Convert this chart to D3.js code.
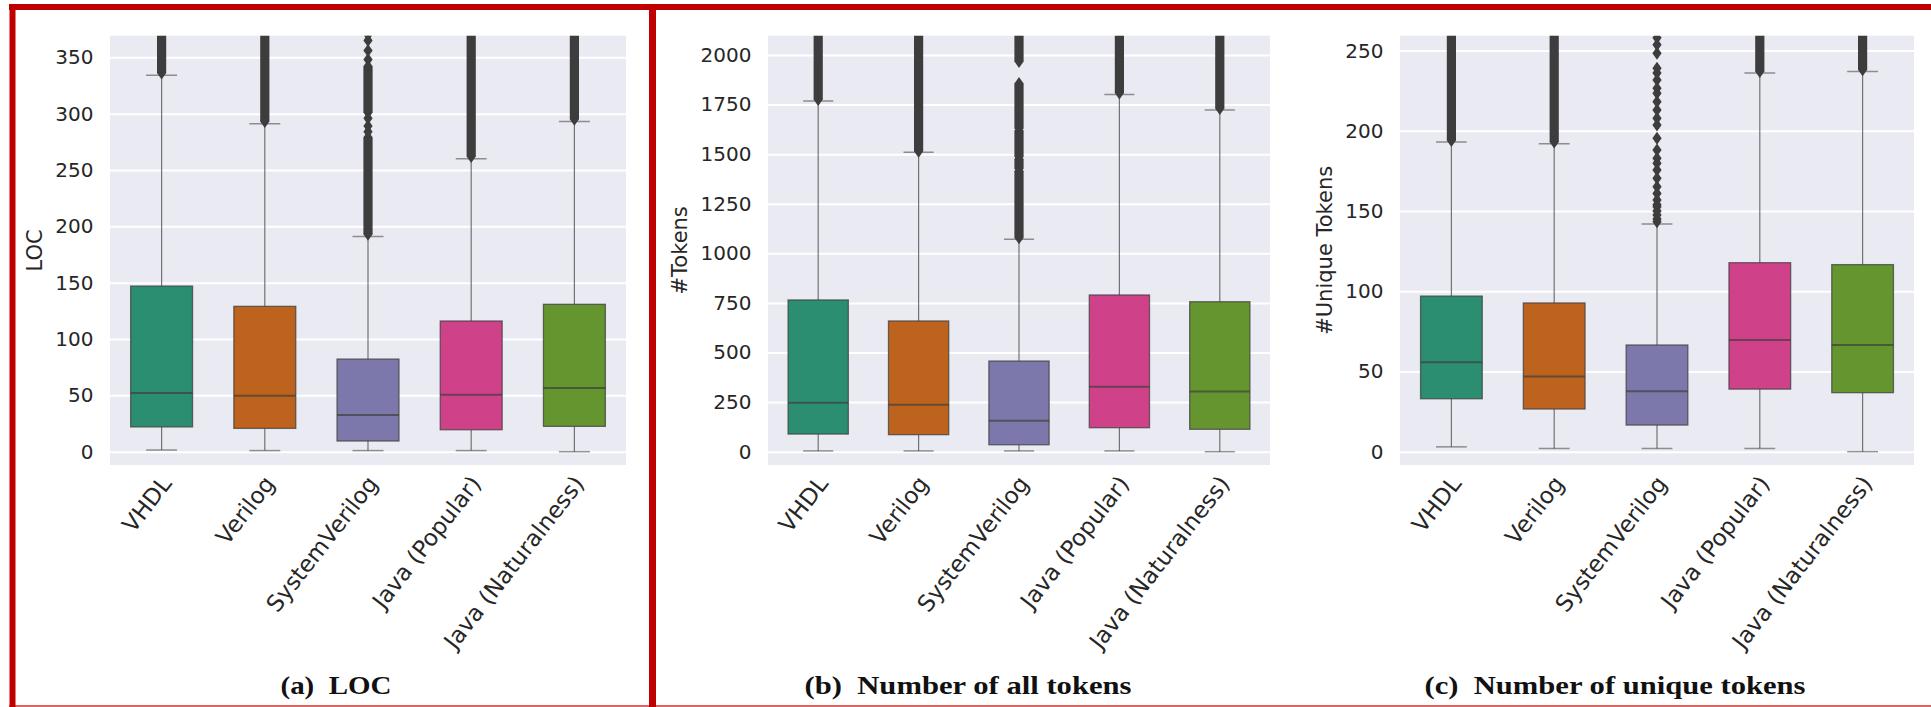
<!DOCTYPE html>
<html>
<head>
<meta charset="utf-8">
<script src="https://cdn.jsdelivr.net/npm/d3@7"></script>
<style>
  html, body { margin: 0; padding: 0; background: #ffffff; }
  svg { display: block; }
</style>
</head>
<body>
<svg id="chart" width="1931" height="707"></svg>
<script>
// ---------------- DATA ----------------
const categories = ["VHDL", "Verilog", "SystemVerilog", "Java (Popular)", "Java (Naturalness)"];

// [whisker low, Q1, median, Q3, whisker high] per category
const locBoxes = [
  [1.5, 22, 52, 147, 334],
  [1, 20.7, 49.7, 129, 291],
  [1, 9.5, 32.5, 82.2, 191],
  [1, 19.5, 50.6, 116, 260],
  [0, 22.5, 56.5, 130.8, 293]
];
const tokenBoxes = [
  [4, 89, 247, 765, 1768],
  [4, 86, 237, 659, 1509],
  [4, 35, 156, 457, 1071],
  [4, 121, 328, 790, 1800],
  [0, 113, 304, 756, 1723]
];
const uniqueBoxes = [
  [3, 33, 55.7, 97, 193],
  [2, 26.6, 46.8, 92.7, 192],
  [2, 16.6, 37.6, 66.5, 142],
  [2, 39, 69.6, 117.8, 236],
  [0, 36.8, 66.5, 116.6, 237]
];

// dense runs of overlapping outliers [from, to] per category
const locOutlierRuns = [
  [[336, 400]],
  [[293, 400]],
  [[193, 279], [301, 342]],
  [[262, 400]],
  [[295, 400]]
];
const tokenOutlierRuns = [
  [[1775, 2200]],
  [[1515, 2200]],
  [[1079, 1415], [1428, 1475], [1488, 1618], [1630, 1856], [1967, 2200]],
  [[1808, 2200]],
  [[1730, 2200]]
];
const uniqueOutlierRuns = [
  [[194, 280]],
  [[193, 280]],
  [],
  [[237, 280]],
  [[238, 280]]
];

// individual (sparse) outliers per category
const locOutliers = [[], [], [284, 289, 296, 348, 356, 365, 370], [], []];
const tokenOutliers = [[], [], [], [], []];
const uniqueOutliers = [[], [],
  [258, 253.6, 248.4, 239, 236, 231.7, 226.5, 223.4, 218.2, 213, 207.8, 203.6,
   195.3, 188, 182.9, 179.8, 175.6, 170.4, 165.2, 161, 156.9, 154, 152.7, 150,
   147.5, 145, 143.3],
  [], []];

const locTicks = [0, 50, 100, 150, 200, 250, 300, 350];
const tokenTicks = [0, 250, 500, 750, 1000, 1250, 1500, 1750, 2000];
const uniqueTicks = [0, 50, 100, 150, 200, 250];

const locDomain = [-11.8, 369.2];
const tokenDomain = [-67, 2097];
const uniqueDomain = [-8.3, 259.3];

const yLabels = ["LOC", "#Tokens", "#Unique Tokens"];
const captions = ["(a)\u2002LOC", "(b)\u2002Number of all tokens", "(c)\u2002Number of unique tokens"];

// ---------------- STYLE / LAYOUT ----------------
const basePalette = ["#1b9e77", "#d95f02", "#7570b3", "#e7298a", "#66a61e"];
const palette = basePalette.map(c => { const h = d3.hsl(c); h.s *= 0.75; return h.formatHex(); });

const plotTop = 35.7, plotBottom = 465;
const panels = [
  { x0: 110, x1: 626, domain: locDomain, ticks: locTicks, boxes: locBoxes, runs: locOutlierRuns, singles: locOutliers,
    ylabel: yLabels[0], ylabelX: 35, caption: captions[0], capX: 336, capW: 111 },
  { x0: 768, x1: 1270, domain: tokenDomain, ticks: tokenTicks, boxes: tokenBoxes, runs: tokenOutlierRuns, singles: tokenOutliers,
    ylabel: yLabels[1], ylabelX: 680, capX: 968, caption: captions[1], capW: 327 },
  { x0: 1400, x1: 1914, domain: uniqueDomain, ticks: uniqueTicks, boxes: uniqueBoxes, runs: uniqueOutlierRuns, singles: uniqueOutliers,
    ylabel: yLabels[2], ylabelX: 1325, capX: 1615, caption: captions[2], capW: 381 }
];

const svg = d3.select("#chart");
const defs = svg.append("defs");
const textColor = "#262626";
const lineColor = "#3f3f3f";
const flierColor = "#3d3d3d";
const dHalfW = 4.6, dHalfH = 6.5;
const diamond = `M0,${-dHalfH}L${dHalfW},0L0,${dHalfH}L${-dHalfW},0Z`;
const labelAngle = 52, labelFont = 23;

panels.forEach((p, pi) => {
  const x = d3.scaleBand().domain(categories).range([p.x0, p.x1]).paddingInner(0.4).paddingOuter(0.2);
  const y = d3.scaleLinear().domain(p.domain).range([plotBottom, plotTop]);
  const bw = x.bandwidth();
  const cx = c => x(c) + bw / 2;

  const clipId = "clip" + pi;
  defs.append("clipPath").attr("id", clipId)
    .append("rect").attr("x", p.x0).attr("y", plotTop).attr("width", p.x1 - p.x0).attr("height", plotBottom - plotTop);

  const g = svg.append("g");
  g.append("rect").attr("x", p.x0).attr("y", plotTop).attr("width", p.x1 - p.x0).attr("height", plotBottom - plotTop)
    .attr("fill", "#eaeaf2");

  const axis = d3.axisLeft(y).tickValues(p.ticks).tickSize(-(p.x1 - p.x0)).tickPadding(16.5).tickFormat(d3.format("d"));
  const ax = g.append("g").attr("transform", `translate(${p.x0},0)`).call(axis);
  ax.select(".domain").remove();
  ax.selectAll(".tick line").attr("stroke", "#ffffff").attr("stroke-width", 2);
  ax.selectAll(".tick text").attr("fill", textColor).attr("font-size", "20px")
    .attr("font-family", "DejaVu Sans, sans-serif").attr("x", -16.5);

  const plot = g.append("g").attr("clip-path", `url(#${clipId})`);

  categories.forEach((c, i) => {
    const [lo, q1, med, q3, hi] = p.boxes[i];
    const xc = cx(c);
    const capHalf = bw / 4;
    plot.append("line").attr("x1", xc).attr("x2", xc).attr("y1", y(q3)).attr("y2", y(hi))
      .attr("stroke", lineColor).attr("stroke-width", 1.2).attr("stroke-opacity", 0.7);
    plot.append("line").attr("x1", xc).attr("x2", xc).attr("y1", y(q1)).attr("y2", y(lo))
      .attr("stroke", lineColor).attr("stroke-width", 1.2).attr("stroke-opacity", 0.7);
    [lo, hi].forEach(v => {
      plot.append("line").attr("x1", xc - capHalf).attr("x2", xc + capHalf).attr("y1", y(v)).attr("y2", y(v))
        .attr("stroke", lineColor).attr("stroke-width", 1.5).attr("stroke-opacity", 0.55);
    });
    plot.append("rect").attr("x", x(c)).attr("width", bw).attr("y", y(q3)).attr("height", y(q1) - y(q3))
      .attr("fill", palette[i]).attr("stroke", lineColor).attr("stroke-width", 1.3).attr("stroke-opacity", 0.75);
    plot.append("line").attr("x1", x(c)).attr("x2", x(c) + bw).attr("y1", y(med)).attr("y2", y(med))
      .attr("stroke", lineColor).attr("stroke-width", 2).attr("stroke-opacity", 0.7);

    p.runs[i].forEach(([a, b]) => {
      plot.append("rect").attr("x", xc - dHalfW).attr("width", 2 * dHalfW)
        .attr("y", y(b)).attr("height", y(a) - y(b)).attr("fill", flierColor);
      [a, b].forEach(v => plot.append("path").attr("d", diamond)
        .attr("transform", `translate(${xc},${y(v)})`).attr("fill", flierColor));
    });
    plot.selectAll(null).data(p.singles[i]).enter().append("path").attr("d", diamond)
      .attr("transform", v => `translate(${xc},${y(v)})`).attr("fill", flierColor);

    g.append("text").attr("transform", `translate(${xc + 11},${484}) rotate(${-labelAngle})`)
      .attr("text-anchor", "end").attr("fill", textColor).attr("font-size", labelFont + "px")
      .attr("font-family", "DejaVu Sans, sans-serif").text(c);
  });

  g.append("text").attr("transform", `translate(${p.ylabelX},${(plotTop + plotBottom) / 2}) rotate(-90)`)
    .attr("text-anchor", "middle").attr("dominant-baseline", "central").attr("fill", textColor)
    .attr("font-size", "21px").attr("font-family", "DejaVu Sans, sans-serif").text(p.ylabel);

  g.append("text").attr("x", p.capX).attr("y", 694).attr("text-anchor", "middle")
    .attr("font-family", "Liberation Serif, Times New Roman, serif").attr("font-weight", "bold")
    .attr("font-size", "25px").attr("fill", "#111111")
    .attr("textLength", p.capW).attr("lengthAdjust", "spacingAndGlyphs").text(p.caption);
});

const red = "#c00000";
const frame = svg.append("g").attr("fill", "none").attr("stroke", red);
frame.append("line").attr("x1", 9).attr("x2", 1931).attr("y1", 7).attr("y2", 7).attr("stroke-width", 6);
frame.append("line").attr("x1", 12.5).attr("x2", 12.5).attr("y1", 4).attr("y2", 707).attr("stroke-width", 6);
frame.append("line").attr("x1", 652.5).attr("x2", 652.5).attr("y1", 4).attr("y2", 707).attr("stroke-width", 7);
frame.append("line").attr("x1", 9).attr("x2", 1931).attr("y1", 706.5).attr("y2", 706.5).attr("stroke-width", 3).attr("stroke-opacity", 0.6);
</script>
</body>
</html>
